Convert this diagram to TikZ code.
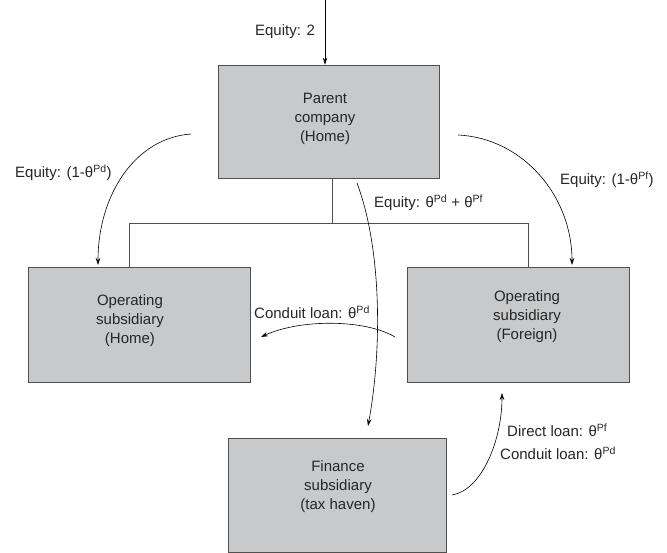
\documentclass[tikz,border=0pt]{standalone}
\usepackage{fontspec}
\setmainfont{Liberation Sans}
\usetikzlibrary{arrows.meta}
\definecolor{boxfill}{RGB}{200,201,203}
\definecolor{boxline}{RGB}{80,80,80}
\begin{document}
\begin{tikzpicture}[x=1pt,y=-1pt,
  font=\fontsize{15}{19}\selectfont,
  box/.style={draw=boxline, fill=boxfill, line width=0.8pt, inner sep=0pt, rectangle},
  txt/.style={align=center, inner sep=0pt, text=black!85},
  lbl/.style={anchor=west, inner sep=0pt, text=black!85},
  arr/.style={-{Stealth[length=7pt,width=4.5pt]}, line width=0.6pt, black},
  busline/.style={draw=boxline, line width=0.8pt}]
\useasboundingbox (0,0) rectangle (667,553);

% boxes
\node[box, minimum width=221pt, minimum height=113pt] (parent) at (328.5,121.5) {};
\node[box, minimum width=222pt, minimum height=115pt] (home) at (139,324.5) {};
\node[box, minimum width=222pt, minimum height=115pt] (foreign) at (518,324.5) {};
\node[box, minimum width=218pt, minimum height=114pt] (finance) at (337,495) {};

% box texts
\node[txt] (parentT) at (325,119) {Parent\\company\\(Home)};
\node[txt] (homeT) at (130,321) {Operating\\subsidiary\\(Home)};
\node[txt] (foreignT) at (527,317) {Operating\\subsidiary\\(Foreign)};
\node[txt] (financeT) at (338,487) {Finance\\subsidiary\\(tax haven)};

% ownership bus
\coordinate (busM) at (332,223);
\coordinate (busL) at (129,223);
\coordinate (busR) at (528,223);
\draw[busline] (busM |- parent.south) -- (busM);
\draw[busline] (busL |- home.north) -- (busL) -- (busR) -- (busR |- foreign.north);

% free ends of connectors
\coordinate (src) at (325,0);
\coordinate (eqlS) at (191,134);
\coordinate (eqlE) at (98,265);
\coordinate (eqrS) at (458,135);
\coordinate (eqrE) at (572,265);
\coordinate (eqmS) at (357,183);
\coordinate (eqmE) at (368,426);
\coordinate (conS) at (395,337);
\coordinate (conE) at (261,337);
\coordinate (dirS) at (452,495);
\coordinate (dirE) at (502,393);

% connectors
\draw[arr] (src) -- (src |- parent.north);
\draw[arr] (eqlS) .. controls (135,138) and (98,195) .. (eqlE);
\draw[arr] (eqrS) .. controls (522,138) and (572,195) .. (eqrE);
\draw[arr] (eqmS) .. controls (382,250) and (382,350) .. (eqmE);
\draw[arr] (conS) .. controls (365,319) and (300,319) .. (conE);
\draw[arr] (dirS) .. controls (482,490) and (502,440) .. (dirE);

% labels
\node[anchor=center, inner sep=0pt, text=black!85] (l0) at (285,32) {Equity: 2};
\node[lbl] (l1) at (15,173) {Equity: (1-θ\textsuperscript{Pd})};
\node[lbl] (l2) at (374,203) {Equity: θ\textsuperscript{Pd} + θ\textsuperscript{Pf}};
\node[lbl] (l3) at (560,180) {Equity: (1-θ\textsuperscript{Pf})};
\node[lbl] (l4) at (254,312) {Conduit loan: θ\textsuperscript{Pd}};
\node[lbl] (l5) at (507,430) {Direct loan: θ\textsuperscript{Pf}};
\node[lbl] (l6) at (500,453) {Conduit loan: θ\textsuperscript{Pd}};
\end{tikzpicture}
\end{document}
